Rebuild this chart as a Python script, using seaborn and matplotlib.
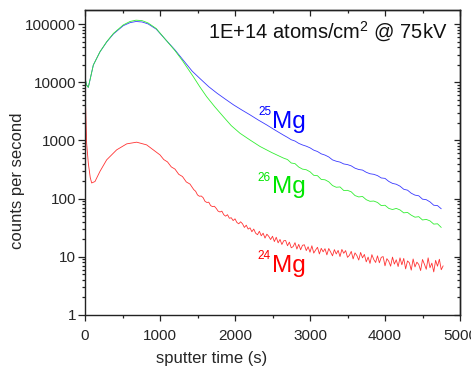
import matplotlib
matplotlib.use("Agg")
import matplotlib.pyplot as plt
import matplotlib.ticker as mticker
import pandas as pd
import seaborn as sns

# Mg implant depth profile (1E+14 atoms/cm2 @ 75kV)

# 25Mg - smooth part, then noisy tail sampled every 50 s
blue_time = [0, 20, 44, 70, 111, 200, 290, 380, 510, 600, 680, 760, 840, 950,
             1070, 1200, 1310, 1430, 1530, 1650, 1760, 1870, 1980, 2090, 2200,
             2310, 2420, 2530, 2640]
blue_cps = [12000, 9000, 8200, 11500, 19800, 33500, 49500, 68000, 94000, 106000,
            111000, 109000, 101000, 82000, 55000, 36000, 24000, 15500, 11700, 8400,
            6500, 5150, 4100, 3350, 2760, 2250, 1860, 1520, 1250]
blue_tail = [1130, 1030, 978, 892, 838, 798, 748, 682, 646, 589,
             561, 521, 464, 440, 425, 395, 385, 366, 334, 317,
             310, 284, 268, 262, 249, 227, 223, 198, 183, 177,
             164, 145, 140, 124, 115, 112, 98, 96, 88, 77,
             76, 67]

# 26Mg
green_time = [0, 20, 44, 70, 111, 200, 290, 380, 510, 600, 680, 760, 840, 950,
              1070, 1200, 1300, 1444, 1530, 1622, 1730, 1844, 1950, 2067, 2200,
              2333, 2490, 2644]
green_cps = [12000, 9000, 8200, 11500, 19800, 33500, 50000, 69500, 97000, 111000,
             117000, 115000, 105000, 84000, 55000, 35000, 23500, 12500, 8400, 5660,
             3800, 2570, 1800, 1330, 1020, 790, 620, 500]
green_tail = [470, 410, 400, 349, 322, 314, 290, 252, 248, 214,
              211, 195, 168, 157, 159, 138, 139, 131, 113, 107,
              109, 96, 90, 91, 86, 76, 77, 68, 65, 68,
              64, 57, 58, 52, 48, 49, 43, 44, 41.5, 36.5,
              37, 32]

# 24Mg - smooth part, then noisy tail sampled every 25 s
red_time = [0, 8, 22, 44, 70, 89, 133, 200, 289, 422, 556, 689, 822, 1000,
            1050, 1100, 1150, 1200, 1250, 1300, 1350, 1400, 1450]
red_cps = [12000, 4000, 890, 410, 230, 186, 197, 295, 465, 690, 875, 935, 840,
           565, 470, 428, 352, 322, 262, 240, 194, 178, 143]
red_tail = [134, 116, 110, 111, 104, 90, 86, 87, 76, 73,
            74, 68, 61, 59, 61, 53, 50, 53, 46, 47,
            42, 45, 39, 37, 40, 37, 32, 35, 30, 31.5,
            27, 30, 25.5, 24, 27.5, 23, 25.5, 21, 24.5, 22.5,
            19.8, 22.6, 18.3, 21.7, 17.4, 19.9, 16.3, 18.9, 19.1, 15.5,
            17.9, 14.3, 15.0, 17.5, 13.6, 16.4, 13.2, 15.8, 16.1, 12.8,
            14.9, 12.0, 15.5, 11.6, 13.1, 14.6, 11.2, 14.0, 12.2, 13.8,
            10.8, 13.9, 12.1, 10.4, 13.3, 11.2, 12.9, 10.1, 13.4, 11.5,
            12.8, 9.8, 10.6, 12.4, 9.2, 11.7, 10.5, 8.8, 11.9, 9.6,
            11.0, 8.2, 9.9, 7.7, 10.9, 9.0, 8.0, 10.4, 7.9, 9.8,
            10.1, 7.0, 9.3, 8.4, 6.9, 9.9, 7.5, 8.9, 6.8, 9.6,
            7.3, 9.4, 6.2, 8.5, 7.9, 5.9, 9.2, 6.7, 8.1, 7.4,
            5.8, 9.0, 7.5, 6.1, 9.6, 6.5, 7.8, 5.5, 8.7, 6.9,
            9.1, 6.0, 7.0]

blue_tail_time = list(range(2700, 4800, 50))
green_tail_time = list(range(2700, 4800, 50))
red_tail_time = list(range(1475, 4800, 25))

isotopes = ["25", "26", "24"]
colors = {"25": "#0000ff", "26": "#00e600", "24": "#ff0000"}
line_colors = {"25": "#3a3aff", "26": "#33ee33", "24": "#ff3333"}
label_pos = {"25": (2500, 1660), "26": (2490, 125), "24": (2490, 5.5)}

frames = [
    pd.DataFrame({"time": blue_time + blue_tail_time, "cps": blue_cps + blue_tail, "iso": "25"}),
    pd.DataFrame({"time": green_time + green_tail_time, "cps": green_cps + green_tail, "iso": "26"}),
    pd.DataFrame({"time": red_time + red_tail_time, "cps": red_cps + red_tail, "iso": "24"}),
]
df = pd.concat(frames, ignore_index=True)

sns.set_style("ticks")
plt.rcParams["font.family"] = ["Liberation Sans", "DejaVu Sans"]
plt.rcParams["mathtext.fontset"] = "custom"
plt.rcParams["mathtext.rm"] = "Liberation Sans"
plt.rcParams["mathtext.default"] = "regular"

fig = plt.figure(figsize=(4.71, 3.70), dpi=100)
ax = fig.add_axes([85 / 471, 55 / 370, 375 / 471, 305 / 370])

for iso in isotopes:
    sub = df[df["iso"] == iso]
    sns.lineplot(data=sub, x="time", y="cps", color=line_colors[iso], linewidth=0.6,
                 estimator=None, sort=False, ax=ax, legend=False)

ax.set_yscale("log")
ax.set_xlim(0, 5000)
ax.set_ylim(1, 1.75e5)

ax.xaxis.set_major_locator(mticker.MultipleLocator(1000))
ax.xaxis.set_minor_locator(mticker.MultipleLocator(500))
ax.yaxis.set_major_locator(mticker.LogLocator(base=10, numticks=10))
ax.yaxis.set_minor_locator(mticker.LogLocator(base=10, subs=range(2, 10), numticks=20))
ax.yaxis.set_major_formatter(mticker.FuncFormatter(lambda v, p: f"{v:g}"))
ax.yaxis.set_minor_formatter(mticker.NullFormatter())

ax.tick_params(which="both", direction="out", top=False, right=False,
               labelsize=11, color="#222222", width=0.9)
ax.tick_params(axis="x", which="major", length=4, pad=6)
ax.tick_params(axis="y", which="major", length=5, pad=1.5)
ax.tick_params(which="minor", length=2.5)

for s in ax.spines.values():
    s.set_visible(True)
    s.set_linewidth(1.0)
    s.set_color("#222222")

# mirrored ticks on top and right point into the plot
top = ax.secondary_xaxis("top")
top.xaxis.set_major_locator(mticker.MultipleLocator(1000))
top.xaxis.set_minor_locator(mticker.MultipleLocator(500))
top.tick_params(which="both", direction="in", labeltop=False, color="#222222", width=0.9)
top.tick_params(which="major", length=4)
top.tick_params(which="minor", length=2.5)
top.spines["top"].set_linewidth(1.0)

right = ax.secondary_yaxis("right")
right.yaxis.set_major_locator(mticker.LogLocator(base=10, numticks=10))
right.yaxis.set_minor_locator(mticker.LogLocator(base=10, subs=range(2, 10), numticks=20))
right.tick_params(which="both", direction="in", labelright=False, color="#222222", width=0.9)
right.tick_params(which="major", length=4)
right.tick_params(which="minor", length=2.5)
right.spines["right"].set_linewidth(1.0)

ax.set_xlabel("")
ax.set_ylabel("")
fig.text(212 / 471, 1 - 359 / 370, "sputter time (s)", ha="center", va="center", fontsize=12)
fig.text(18 / 471, 1 - 181 / 370, "counts per second", ha="center", va="center",
         rotation=90, fontsize=12)

ax.text(0.968, 0.908, "1E+14 atoms/cm$^2$ @ 75kV", transform=ax.transAxes,
        ha="right", va="baseline", fontsize=14.5, color="#111111")

for iso in isotopes:
    x, y = label_pos[iso]
    ax.text(x, y, "Mg", color=colors[iso], fontsize=17.5, ha="left", va="baseline")
    ax.annotate(iso, xy=(x, y), xytext=(-0.5, 9), textcoords="offset points",
                color=colors[iso], fontsize=8.5, ha="right", va="baseline")

fig.savefig("out.png", dpi=100)
